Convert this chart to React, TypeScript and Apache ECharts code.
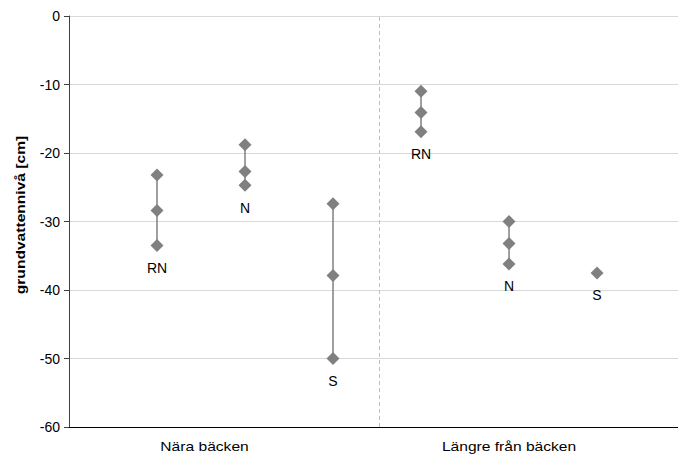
import React, { useEffect, useRef } from "react";
import * as echarts from "echarts";

const groupLabels = ["RN", "N", "S", "RN", "N", "S"];
const groupX = [1, 2, 3, 4, 5, 6];
const groupValues: number[][] = [
  [-23.2, -28.4, -33.5],
  [-18.8, -22.7, -24.7],
  [-27.4, -37.9, -50.0],
  [-11.0, -14.1, -16.9],
  [-30.0, -33.2, -36.2],
  [-37.5],
];
const categoryLabels = ["Nära bäcken", "Längre från bäcken"];
const categoryLabelX = [1.54, 5.0];
const separatorX = 3.534;
const xRange = { min: 0, max: 6.92 };
const yTicks = { min: -60, max: 0, interval: 10 };
const yName = "grundvattennivå [cm]";

const FONT = "Arial, 'Liberation Sans', sans-serif";

export default function App() {
  const ref = useRef<HTMLDivElement>(null);
  useEffect(() => {
    if (!ref.current) return;
    const chart = echarts.init(ref.current, null, { renderer: "svg" });
    const series: any[] = groupValues.map((vals, i) => ({
      type: "line",
      data: vals.map((v, j) => ({
        value: [groupX[i], v],
        label:
          j === vals.length - 1
            ? {
                show: true,
                position: "bottom",
                distance: 9,
                formatter: groupLabels[i],
                fontFamily: FONT,
                fontSize: 14,
                color: "#000",
              }
            : { show: false },
      })),
      symbol: "diamond",
      symbolSize: 13,
      itemStyle: { color: "#808080" },
      lineStyle: { color: "#808080", width: 1.5 },
      z: 3,
    }));
    series.push({
      type: "line",
      data: [],
      markLine: {
        silent: true,
        symbol: "none",
        label: { show: false },
        lineStyle: { color: "#bfbfbf", type: [4, 3], width: 1 },
        data: [{ xAxis: separatorX }],
      },
    });
    chart.setOption({
      animation: false,
      grid: { left: 69, top: 16, right: 0, height: 411 },
      xAxis: {
        type: "value",
        min: xRange.min,
        max: xRange.max,
        axisLine: { show: true, onZero: false, lineStyle: { color: "#000", width: 1 } },
        axisTick: { show: false },
        axisLabel: { show: false },
        splitLine: { show: false },
      },
      yAxis: {
        type: "value",
        min: yTicks.min,
        max: yTicks.max,
        interval: yTicks.interval,
        axisLine: { show: true, lineStyle: { color: "#404040", width: 1 } },
        axisTick: { show: true, length: 5, lineStyle: { color: "#404040" } },
        axisLabel: {
          margin: 9,
          fontFamily: FONT,
          fontSize: 14,
          color: "#000",
        },
        splitLine: { show: true, lineStyle: { color: "#d9d9d9", width: 1 } },
      },
      series,
    });
    const texts: any[] = categoryLabels.map((t, i) => {
      const [px] = chart.convertToPixel({ gridIndex: 0 }, [categoryLabelX[i], 0]) as number[];
      return {
        type: "text",
        x: px,
        y: 446,
        scaleX: 1.2,
        style: {
          text: t,
          align: "center",
          verticalAlign: "middle",
          fontFamily: FONT,
          fontSize: 13,
          fill: "#000",
        },
      };
    });
    texts.push({
      type: "text",
      x: 20,
      y: 215,
      rotation: Math.PI / 2,
      scaleX: 1.2,
      style: {
        text: yName,
        align: "center",
        verticalAlign: "middle",
        fontFamily: FONT,
        fontSize: 13,
        fontWeight: "bold",
        fill: "#000",
      },
    });
    chart.setOption({ graphic: texts });
    return () => chart.dispose();
  }, []);
  return (
    <div
      ref={ref}
      style={{ position: "absolute", left: 0, top: 0, width: 678, height: 456, background: "#fff" }}
    />
  );
}
